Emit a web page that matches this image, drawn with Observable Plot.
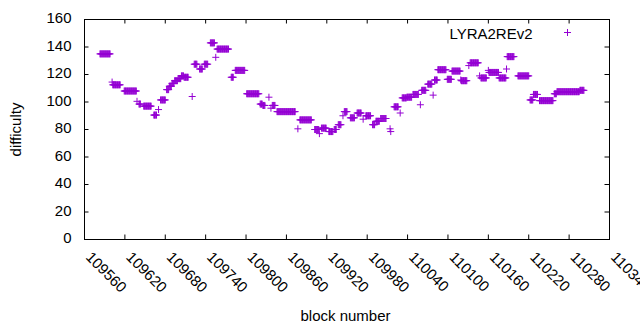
<!DOCTYPE html>
<html><head><meta charset="utf-8">
<script src="https://cdn.jsdelivr.net/npm/d3@7"></script>
<script src="https://cdn.jsdelivr.net/npm/@observablehq/plot@0.6"></script>
<style>body{margin:0;background:#fff}</style>
</head><body><div id="chart"></div>
<script>
const seriesName = "LYRA2REv2";
const xLabel = "block number";
const yLabel = "difficulty";
// runs of consecutive blocks with the same difficulty
const runStart = [109583,109601,109602,109619,109638,109641,109648,109663,109670,109673,109682,109686,109690,109694,109699,109704,109708,109720,109723,109731,109738,109747,109755,109757,109778,109784,109801,109821,109825,109834,109837,109839,109846,109877,109880,109902,109909,109912,109923,109931,109937,109944,109946,109955,109965,109974,109978,109988,109993,110000,110014,110015,110020,110029,110032,110039,110048,110059,110061,110070,110078,110080,110085,110099,110106,110119,110120,110131,110133,110147,110149,110160,110161,110176,110187,110188,110204,110222,110227,110236,110258,110262,110296];
const runEnd   = [109598,109601,109613,109637,109638,109643,109659,109667,109670,109680,109685,109689,109693,109698,109703,109707,109714,109720,109727,109735,109743,109753,109755,109774,109781,109798,109819,109824,109828,109834,109837,109843,109873,109877,109897,109908,109909,109919,109929,109934,109941,109944,109950,109961,109971,109974,109985,109991,109998,110008,110014,110015,110026,110029,110038,110046,110056,110059,110067,110076,110078,110084,110097,110105,110118,110119,110128,110131,110145,110147,110157,110160,110175,110186,110187,110198,110220,110226,110233,110256,110261,110295,110302];
const runDifficulty = [135,114.5,112.5,108,100.5,98.5,97,90.5,94.5,101.5,109,111.5,113.5,115.5,117,119,118,104,127.5,124,127.5,143,132.5,138.5,118,123,106,98.5,97.5,103.5,95.5,97.5,93,80.5,87,80,77,81,78.5,80,83.5,90,93,88.5,92,87.5,90,83.5,86,88,80.5,78.5,96.5,92,103,103.5,105.5,98,108.5,113,105,116,123.5,116.5,122.5,116,115.5,126.5,128.5,119,117.5,123,121.5,117.5,124,133,119,101.5,105.5,101,106,107.5,108.5];
const xTicks = [109560,109620,109680,109740,109800,109860,109920,109980,110040,110100,110160,110220,110280,110340];
const yTicks = [0,20,40,60,80,100,120,140,160];

const points = [];
runStart.forEach((s, i) => {
  for (let b = s; b <= runEnd[i]; b++) points.push({block: b, difficulty: runDifficulty[i]});
});

const plus = {draw(context, size) {
  const r = Math.sqrt(size / Math.PI);
  context.moveTo(-r, 0); context.lineTo(r, 0);
  context.moveTo(0, -r); context.lineTo(0, r);
}};

const W = 640, H = 330, mL = 84, mR = 31, mT = 19, mB = 91;
const innerW = W - mL - mR, innerH = H - mT - mB;
const tk = 4.5;
const purple = "#9400d3";

const chart = Plot.plot({
  width: W, height: H, marginLeft: mL, marginRight: mR, marginTop: mT, marginBottom: mB,
  style: {fontFamily: "'Liberation Sans', Arial, sans-serif", fontSize: "15px", background: "white", color: "black"},
  x: {domain: [109560, 110340], axis: null},
  y: {domain: [0, 160], axis: null},
  marks: [
    Plot.tickY(yTicks, {y: d => d, stroke: "black", insetRight: innerW - tk}),
    Plot.tickY(yTicks, {y: d => d, stroke: "black", insetLeft: innerW - tk}),
    Plot.tickX(xTicks, {x: d => d, stroke: "black", insetTop: innerH - tk}),
    Plot.tickX(xTicks, {x: d => d, stroke: "black", insetBottom: innerH - tk}),
    Plot.text(yTicks, {y: d => d, frameAnchor: "left", textAnchor: "end", lineAnchor: "middle", dx: -13, dy: -1, text: d => String(d), fontSize: 15}),
    Plot.text(xTicks, {x: d => d, frameAnchor: "bottom", textAnchor: "start", lineAnchor: "top", rotate: 45, dx: 8, dy: 11, text: d => String(d), fontSize: 15}),
    Plot.dot(points, {x: "block", y: "difficulty", symbol: plus, r: 3.5, stroke: purple, fill: "none", strokeWidth: 1}),
    Plot.frame({stroke: "black"}),
    Plot.text([yLabel], {frameAnchor: "left", rotate: -90, textAnchor: "middle", lineAnchor: "middle", dx: -68, text: d => d, fontSize: 15}),
    Plot.text([xLabel], {frameAnchor: "bottom", textAnchor: "middle", lineAnchor: "bottom", dx: -1.5, dy: 81.7, text: d => d, fontSize: 15}),
    Plot.text([seriesName], {frameAnchor: "top-right", textAnchor: "end", lineAnchor: "bottom", dx: -77, dy: 19, text: d => d, fontSize: 15}),
    Plot.dot([0], {frameAnchor: "top-right", dx: -42, dy: 13, symbol: plus, r: 3.5, stroke: purple, fill: "none", strokeWidth: 1})
  ]
});
document.getElementById("chart").appendChild(chart);
</script>
</body></html>
